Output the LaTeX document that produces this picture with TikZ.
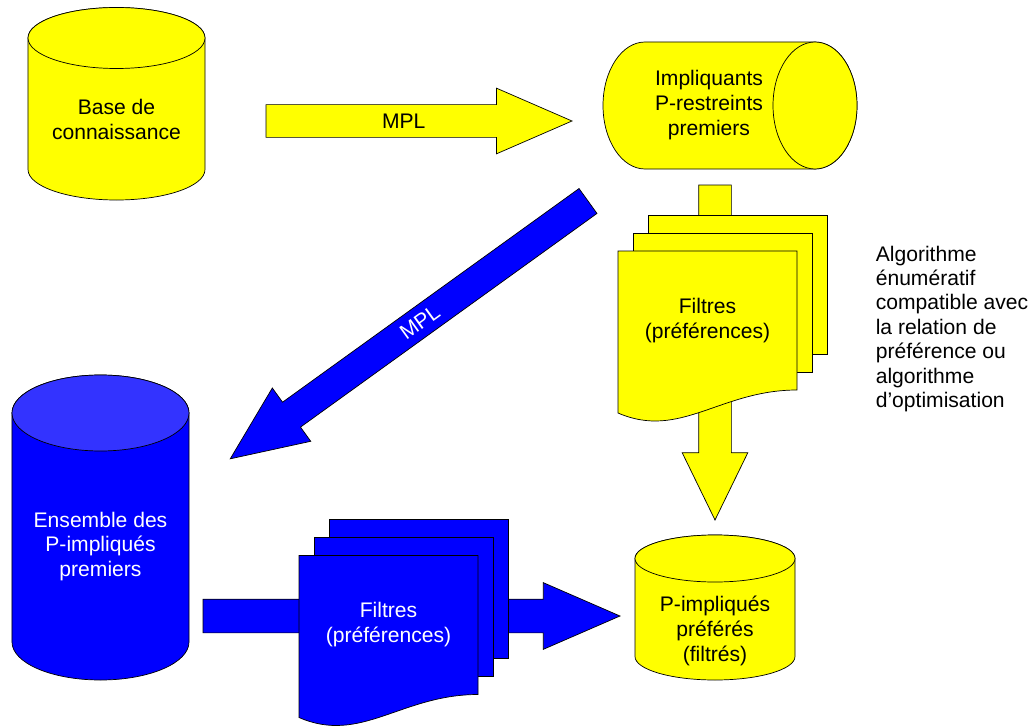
\documentclass[tikz,border=0pt]{standalone}
\usepackage{fontspec}
\setmainfont{Liberation Sans}
\usetikzlibrary{shapes.arrows, calc, backgrounds}
\definecolor{cyel}{HTML}{FFFF00}
\definecolor{cblue}{HTML}{0000FF}
\definecolor{ctop}{HTML}{3333FF}
\tikzset{
  every picture/.style={line width=0.9pt, font=\fontsize{12}{14.2}\selectfont},
  drum/.style={align=center, inner sep=0pt, outer sep=0pt},
  page/.style={align=center, inner sep=0pt, outer sep=0pt, minimum width=35.8mm, minimum height=27.8mm},
  blockarrow/.style={single arrow, draw=black, fill=#1, inner sep=0pt, outer sep=0pt, text height=6.4mm,
    single arrow head extend=3.3mm, single arrow tip angle=47, anchor=tail},
  note/.style={align=left, inner sep=0pt, anchor=north west, font=\fontsize{12}{13.9}\selectfont},
}
% upright cylinder round a node; the lid centre lies [#1] above its north
\newcommand\drumV[5][0mm]{%
  \draw[fill=#4] let \p1=($(#2.east)-(#2.center)$) in
    ($(#2.north west)+(0,#1)$) -- ($(#2.south west)+(0,#3)$)
    arc[start angle=180, end angle=360, x radius=\x1, y radius=#3]
    -- ($(#2.north east)+(0,#1)$)
    arc[start angle=0, end angle=180, x radius=\x1, y radius=#3] -- cycle;
  \draw[fill=#5] let \p1=($(#2.east)-(#2.center)$) in
    ($(#2.north)+(0,#1)$) ellipse [x radius=\x1, y radius=#3];
}
% stack of three sheets behind a page node
\newcommand\sheets[2]{%
  \foreach \d in {2,1}
    \draw[fill=#2] ($(#1.south west)+(\d*3mm,\d*3.6mm)$) rectangle ($(#1.north east)+(\d*3mm,\d*3.6mm)$);
  \draw[fill=#2] (#1.north west) -- ($(#1.south west)+(0,-4.6mm)$)
    .. controls ($(#1.south west)+(12.4mm,-10mm)$) and ($(#1.south west)+(20.4mm,0)$) .. (#1.south east)
    -- (#1.north east) -- cycle;
}

\begin{document}
\begin{tikzpicture}[x=0.2mm, y=-0.2mm]
  \useasboundingbox (0,0) rectangle (1029,727);
  % stores
  \node[drum, minimum width=35.4mm, minimum height=32.4mm] (kb) at (116.5,119) {Base de\\connaissance};
  \node[drum, minimum width=42.4mm, minimum height=25.4mm] (impl) at (709,105.5) {Impliquants\\P-restreints\\premiers};
  \node[drum, text=white, minimum width=35.4mm, minimum height=53.4mm] (ens) at (100.5,546.5) {Ensemble des\\P-impliqués\\premiers};
  \node[drum, minimum width=32mm, minimum height=19.6mm] (pref) at (715,631) {P-impliqués\\préférés\\(filtrés)};
  % filters
  \node[page] (yflt) at (707.5,320.5) {Filtres\\(préférences)};
  \node[page, text=white] (bflt) at (388.5,625) {Filtres\\(préférences)};
  \node[note] (algo) at (875,245) {Algorithme\\énumératif\\compatible avec\\la relation de\\préférence ou\\algorithme\\d’optimisation};
  % arrow ends
  \coordinate (mplA) at (266,121);
  \coordinate (mplB) at (572,121);
  \coordinate (mplC) at (588,201);
  \coordinate (mplD) at (230,459);
  \coordinate (fltA) at (715,185);
  \coordinate (fltB) at (715,520);
  \coordinate (prfA) at (203,616);
  \coordinate (prfB) at (620,616);
  \path (mplA) -- node[pos=.45] (mplT) {MPL} (mplB);
  \path (mplC) -- node[pos=.47, sloped, text=white] (mplS) {MPL} (mplD);
  \begin{scope}[on background layer]
    \path (mplA) -- node[blockarrow=cyel, pos=0, minimum height=61.2mm] (mplY) {} (mplB);
    \path (mplC) -- node[blockarrow=cblue, pos=0, sloped, shape border rotate=180, text height=6mm,
      single arrow head extend=3.5mm, minimum height=88.2mm] (mplX) {} (mplD);
    \path (fltA) -- node[blockarrow=cyel, pos=0, rotate=-90, single arrow tip angle=52, minimum height=67mm] (fltY) {} (fltB);
    \path (prfA) -- node[blockarrow=cblue, pos=0, text height=6.6mm, minimum height=83.4mm] (prfX) {} (prfB);
    \drumV{kb}{6.1mm}{cyel}{cyel}
    \drumV{ens}{7.6mm}{cblue}{ctop}
    \drumV[4.7mm]{pref}{4.7mm}{cyel}{cyel}
    \draw[fill=cyel] ($(impl.north west)+(8.4mm,0)$) -- (impl.north east)
      arc[start angle=90, end angle=-90, x radius=8.4mm, y radius=12.7mm]
      -- ($(impl.south west)+(8.4mm,0)$)
      arc[start angle=270, end angle=90, x radius=8.4mm, y radius=12.7mm] -- cycle;
    \draw[fill=cyel] (impl.east) ellipse [x radius=8.4mm, y radius=12.7mm];
    \sheets{yflt}{cyel}
    \sheets{bflt}{cblue}
  \end{scope}
\end{tikzpicture}
\end{document}
